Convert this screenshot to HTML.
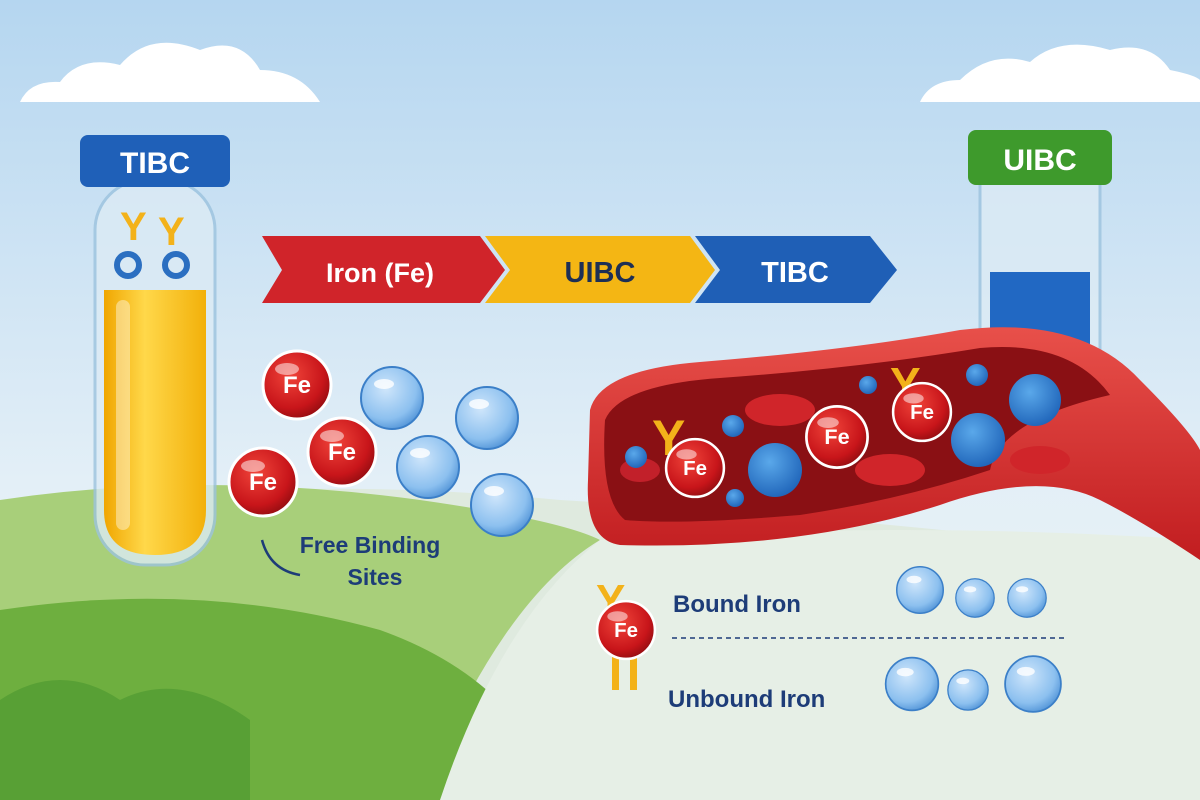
<!DOCTYPE html>
<html><head><meta charset="utf-8">
<style>
html,body{margin:0;padding:0;width:1200px;height:800px;overflow:hidden;}
svg{display:block;font-family:"Liberation Sans",sans-serif;}
</style></head><body>
<svg width="1200" height="800" viewBox="0 0 1200 800" xmlns="http://www.w3.org/2000/svg">
<defs>
<linearGradient id="sky" x1="0" y1="0" x2="0" y2="1">
<stop offset="0" stop-color="#b5d6f0"/><stop offset="0.6" stop-color="#e3eff7"/><stop offset="1" stop-color="#eef5f2"/></linearGradient>
<radialGradient id="fe" cx="0.4" cy="0.35" r="0.7"><stop offset="0" stop-color="#f0443a"/><stop offset="0.7" stop-color="#c8151a"/><stop offset="1" stop-color="#8e0c10"/></radialGradient>
<radialGradient id="bub" cx="0.4" cy="0.35" r="0.7"><stop offset="0" stop-color="#cfe6fb"/><stop offset="0.7" stop-color="#8cc0ef"/><stop offset="1" stop-color="#4f92d6"/></radialGradient>
<radialGradient id="bub2" cx="0.4" cy="0.35" r="0.7"><stop offset="0" stop-color="#5aa8ea"/><stop offset="1" stop-color="#1e63b8"/></radialGradient>
<linearGradient id="yel" x1="0" x2="1"><stop offset="0" stop-color="#f0a600"/><stop offset="0.4" stop-color="#ffd84a"/><stop offset="1" stop-color="#f2b00a"/></linearGradient>
<linearGradient id="ves" x1="0" y1="0" x2="0" y2="1"><stop offset="0" stop-color="#e8504a"/><stop offset="1" stop-color="#c11d20"/></linearGradient>
<g id="fes"><circle r="34" fill="url(#fe)" stroke="#fff" stroke-width="3"/><ellipse cx="-10" cy="-16" rx="12" ry="6" fill="#fff" opacity="0.5"/><text y="8" text-anchor="middle" font-size="24" font-weight="bold" fill="#fff">Fe</text></g>
<g id="bb"><circle r="31" fill="url(#bub)" stroke="#3b7fc8" stroke-width="2"/><ellipse cx="-8" cy="-14" rx="10" ry="5" fill="#fff" opacity="0.8"/></g>
</defs>
<rect width="1200" height="800" fill="url(#sky)"/>
<!-- clouds -->
<path d="M20 102 Q30 80 60 82 Q80 55 120 65 Q150 30 200 50 Q240 35 260 70 Q300 70 320 102 Z" fill="#fff"/>
<path d="M920 102 Q930 80 960 80 Q990 50 1030 62 Q1060 35 1110 50 Q1150 40 1170 70 Q1195 75 1200 80 L1200 102 Z" fill="#fff"/>
<!-- ground -->
<path d="M0 520 Q250 470 560 500 Q900 520 1200 560 L1200 800 L0 800 Z" fill="#dfeadf"/>
<path d="M0 500 Q200 470 420 500 Q560 520 600 540 Q500 600 420 800 L0 800 Z" fill="#a8cf7a"/>
<path d="M0 610 Q200 580 380 630 Q520 680 560 800 L0 800 Z" fill="#6eaf3f"/>
<path d="M0 700 Q60 660 120 700 Q180 670 250 720 L250 800 L0 800Z" fill="#4e9a32" opacity="0.7"/>
<path d="M600 540 Q900 520 1200 540 L1200 800 L440 800 Q500 620 600 540Z" fill="#e6efe6"/>
<!-- left tube -->
<rect x="95" y="180" width="120" height="385" rx="50" fill="#dcebf5" opacity="0.8" stroke="#9cc3de" stroke-width="3"/>
<path d="M104 290 L206 290 L206 510 Q206 555 155 555 Q104 555 104 510 Z" fill="url(#yel)"/>
<rect x="116" y="300" width="14" height="230" rx="7" fill="#fff" opacity="0.4"/>
<text x="120" y="240" font-size="40" font-weight="bold" fill="#f3b21a">Y</text><text x="158" y="245" font-size="40" font-weight="bold" fill="#f3b21a">Y</text>
<circle cx="128" cy="265" r="11" fill="none" stroke="#2b6fc1" stroke-width="6"/><circle cx="176" cy="265" r="11" fill="none" stroke="#2b6fc1" stroke-width="6"/>
<rect x="80" y="135" width="150" height="52" rx="8" fill="#1f60b8"/>
<text x="155" y="173" text-anchor="middle" font-size="30" font-weight="bold" fill="#fff">TIBC</text>
<!-- right tube -->
<rect x="980" y="180" width="120" height="200" fill="#dcebf5" opacity="0.8" stroke="#9cc3de" stroke-width="3"/>
<rect x="990" y="272" width="100" height="100" fill="#2168c3"/>
<rect x="968" y="130" width="144" height="55" rx="8" fill="#3e9a2c"/>
<text x="1040" y="170" text-anchor="middle" font-size="30" font-weight="bold" fill="#fff">UIBC</text>
<!-- banner -->
<path d="M262 236 L480 236 L505 270 L480 303 L262 303 L282 270 Z" fill="#d0242a"/>
<path d="M485 236 L690 236 L715 270 L690 303 L485 303 L510 270 Z" fill="#f4b614"/>
<path d="M695 236 L870 236 L897 270 L870 303 L695 303 L720 270 Z" fill="#1f5fb6"/>
<text x="380" y="282" text-anchor="middle" font-size="27" font-weight="bold" fill="#fff">Iron (Fe)</text>
<text x="600" y="282" text-anchor="middle" font-size="29" font-weight="bold" fill="#1d2f55">UIBC</text>
<text x="795" y="282" text-anchor="middle" font-size="29" font-weight="bold" fill="#fff">TIBC</text>
<!-- vessel -->
<path d="M590 410 Q600 370 700 362 Q850 350 960 330 Q1080 315 1140 380 Q1190 430 1200 450 L1200 560 Q1140 520 1100 500 Q1040 470 940 505 Q800 550 620 545 Q585 540 588 480 Z" fill="url(#ves)"/>
<path d="M605 420 Q620 385 720 378 Q860 368 980 348 Q1070 340 1110 395 Q1000 420 990 470 Q900 500 800 515 Q680 525 625 520 Q600 500 605 420Z" fill="#8a1014"/>
<ellipse cx="780" cy="410" rx="35" ry="16" fill="#d0252a"/><ellipse cx="890" cy="470" rx="35" ry="16" fill="#d0252a"/><ellipse cx="1040" cy="460" rx="30" ry="14" fill="#d0252a"/><ellipse cx="640" cy="470" rx="20" ry="12" fill="#c2202a"/>
<circle cx="636" cy="457" r="11" fill="url(#bub2)"/><circle cx="733" cy="426" r="11" fill="url(#bub2)"/><circle cx="868" cy="385" r="9" fill="url(#bub2)"/><circle cx="977" cy="375" r="11" fill="url(#bub2)"/><circle cx="735" cy="498" r="9" fill="url(#bub2)"/>
<circle cx="775" cy="470" r="27" fill="url(#bub2)"/><circle cx="978" cy="440" r="27" fill="url(#bub2)"/><circle cx="1035" cy="400" r="26" fill="url(#bub2)"/>
<text x="652" y="455" font-size="50" font-weight="bold" fill="#f3b21a">Y</text><text x="890" y="400" font-size="46" font-weight="bold" fill="#f3b21a">Y</text>
<use href="#fes" x="695" y="468" transform="translate(695 468) scale(0.85) translate(-695 -468)"/>
<use href="#fes" x="837" y="437" transform="translate(837 437) scale(0.9) translate(-837 -437)"/>
<use href="#fes" x="922" y="412" transform="translate(922 412) scale(0.85) translate(-922 -412)"/>
<!-- free Fe & bubbles -->
<use href="#fes" x="297" y="385"/><use href="#fes" x="342" y="452"/><use href="#fes" x="263" y="482"/>
<use href="#bb" x="392" y="398"/><use href="#bb" x="487" y="418"/><use href="#bb" x="428" y="467"/><use href="#bb" x="502" y="505"/>
<path d="M262 540 Q270 570 300 575" fill="none" stroke="#1d3c78" stroke-width="2.5"/>
<text x="370" y="553" text-anchor="middle" font-size="23" font-weight="bold" fill="#1d3c78">Free Binding</text>
<text x="375" y="585" text-anchor="middle" font-size="23" font-weight="bold" fill="#1d3c78">Sites</text>
<!-- legend -->
<text x="596" y="615" font-size="44" font-weight="bold" fill="#f3b21a">Y</text>
<rect x="612" y="650" width="7" height="40" fill="#f3b21a"/><rect x="630" y="650" width="7" height="40" fill="#f3b21a"/>
<use href="#fes" x="626" y="630" transform="translate(626 630) scale(0.85) translate(-626 -630)"/>
<text x="673" y="612" font-size="24" font-weight="bold" fill="#1d3c78">Bound Iron</text>
<line x1="672" y1="638" x2="1065" y2="638" stroke="#1d3c78" stroke-width="1.5" stroke-dasharray="5 4"/>
<text x="668" y="707" font-size="24" font-weight="bold" fill="#1d3c78">Unbound Iron</text>
<use href="#bb" transform="translate(920 590) scale(0.75)"/><use href="#bb" transform="translate(975 598) scale(0.62)"/><use href="#bb" transform="translate(1027 598) scale(0.62)"/>
<use href="#bb" transform="translate(912 684) scale(0.85)"/><use href="#bb" transform="translate(968 690) scale(0.65)"/><use href="#bb" transform="translate(1033 684) scale(0.9)"/>
</svg>
</body></html>
